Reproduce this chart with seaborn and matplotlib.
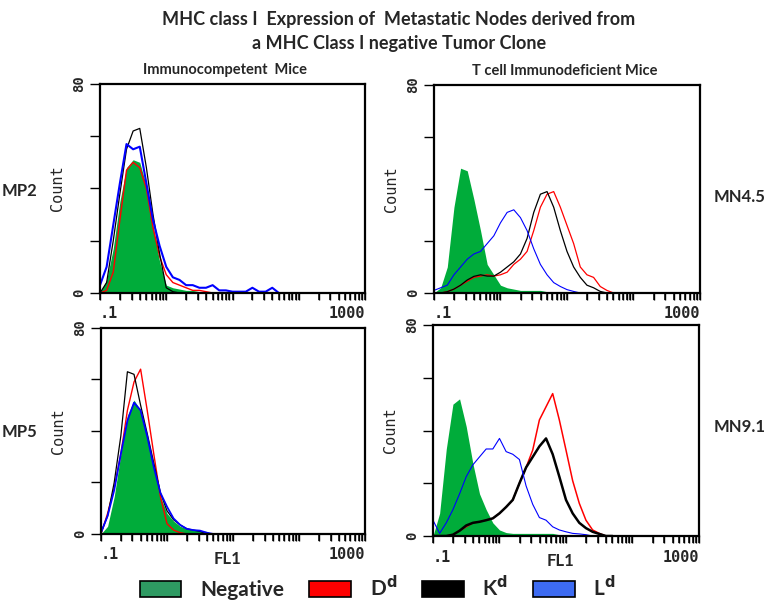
import numpy as np
import pandas as pd
import matplotlib
matplotlib.use("Agg")
import matplotlib.pyplot as plt
from matplotlib.patches import Patch
import seaborn as sns

# Estilo base
sns.set_theme(style="white")
plt.rcParams['font.family'] = ['Lato', 'DejaVu Sans']

# Canal FL1 (log10), bins de 0.1 década
LOG_FL1 = [-1.0, -0.9, -0.8, -0.7, -0.6, -0.5, -0.4, -0.3, -0.2, -0.1,
           0.0, 0.1, 0.2, 0.3, 0.4, 0.5, 0.6, 0.7, 0.8, 0.9,
           1.0, 1.1, 1.2, 1.3, 1.4, 1.5, 1.6, 1.7]

STAINS = ['Negative', 'Dd', 'Kd', 'Ld']
SAMPLES = ['MP2', 'MN4.5', 'MP5', 'MN9.1']

# Conteos (ratón inmunocompetente / inmunodeficiente)
MP2_NEG = [0, 5, 17, 35, 48, 51, 50, 41, 26, 12, 3, 2, 1.5, 1, 1, 0.5, 0.5, 0, 0, 0, 0, 0, 0, 0, 0, 0, 0, 0]
MP2_DD = [0, 1, 8, 28, 47, 50, 48, 40, 25, 14, 7, 4, 3, 2, 1, 1, 0.5, 0, 0, 0, 0, 0, 0, 0, 0, 0, 0, 0]
MP2_KD = [0, 4, 20, 38, 55, 62, 63, 48, 30, 15, 2, 0.5, 0, 0, 0, 0, 0, 0, 0, 0, 0, 0, 0, 0, 0, 0, 0, 0]
MP2_LD = [3, 10, 26, 42, 57, 55, 56, 42, 28, 18, 10, 6, 5, 3, 3, 2, 2, 3, 1, 1, 0.5, 0.5, 0.5, 2, 0.5, 0.5, 2, 0]

MN45_NEG = [0, 2, 10, 33, 48, 47, 36, 24, 11, 7, 3, 2, 1.5, 1, 1, 1, 1, 0.5, 0.5, 0, 0, 0, 0, 0, 0, 0, 0, 0]
MN45_DD = [0, 0, 0.5, 1.5, 3, 4.5, 6, 6.5, 7, 6.5, 7, 8, 11, 13, 16, 24, 33, 38, 39, 33, 26, 19, 10, 7, 6, 2.5, 1, 0]
MN45_KD = [0, 0, 0.5, 1.5, 3, 5, 6.4, 7, 6.5, 6.5, 8, 10, 12, 15, 21, 31, 38, 39, 33, 24, 16, 10, 6, 3, 2, 0.6, 0, 0]
MN45_LD = [1, 2, 3, 7, 10, 13, 15, 16, 19, 22, 27, 31, 32, 29, 24, 17, 11, 7, 4, 2.5, 1.3, 0.6, 0, 0, 0, 0, 0, 0]

MP5_NEG = [0, 3, 14.5, 31, 46, 52, 48, 38, 26, 14.5, 8, 5, 3, 2, 1.5, 1.3, 1, 0, 0, 0, 0, 0, 0, 0, 0, 0, 0, 0]
MP5_DD = [0, 8, 18, 31, 48, 59, 64, 48, 31, 14.5, 4, 1.5, 0.5, 0, 0, 0, 0, 0, 0, 0, 0, 0, 0, 0, 0, 0, 0, 0]
MP5_KD = [0.5, 7, 20, 38, 63, 62, 50, 39, 27.5, 16, 9, 5.5, 3.5, 2, 1.5, 1, 0, 0, 0, 0, 0, 0, 0, 0, 0, 0, 0, 0]
MP5_LD = [0.5, 7, 17, 31, 44, 51, 48, 38, 26, 16, 10.6, 6, 3.5, 2, 1.5, 1.3, 0.5, 0, 0, 0, 0, 0, 0, 0, 0, 0, 0, 0]

MN91_NEG = [0, 8.6, 33, 50, 52, 41.5, 27.5, 16, 10, 5, 2.3, 1.3, 1, 1, 1, 1, 1, 1, 1, 0.5, 0, 0, 0, 0, 0, 0, 0, 0]
MN91_DD = [0, 0, 0, 0.5, 2, 3.5, 5, 5.4, 6, 6.7, 8.6, 11, 13.7, 20, 26, 32.6, 44, 49, 54, 44, 32.6, 21, 12.4, 6, 2.3, 1, 0, 0]
MN91_KD = [0, 0, 0, 0.5, 2, 4, 5, 5.4, 6, 6.7, 8.6, 11, 13.7, 20, 26, 30, 34, 37, 31, 22.5, 13.7, 8.6, 5, 3, 1.6, 0.8, 0, 0]
MN91_LD = [6, 1, 5, 10, 16, 22.5, 27, 30, 33, 33, 37, 32, 31, 29, 19, 12, 7, 6, 3.5, 2.3, 1.6, 1, 0.8, 0.5, 0, 0, 0, 0]

COUNTS = {
    'MP2': [MP2_NEG, MP2_DD, MP2_KD, MP2_LD],
    'MN4.5': [MN45_NEG, MN45_DD, MN45_KD, MN45_LD],
    'MP5': [MP5_NEG, MP5_DD, MP5_KD, MP5_LD],
    'MN9.1': [MN91_NEG, MN91_DD, MN91_KD, MN91_LD],
}

rows = []
for sample in SAMPLES:
    for stain, vals in zip(STAINS, COUNTS[sample]):
        for lx, c in zip(LOG_FL1, vals):
            rows.append({'sample': sample, 'stain': stain, 'fl1': 10 ** lx, 'count': c})
df = pd.DataFrame(rows)

# Colores
NEG_FILL = '#00AC3A'
LINE_COLORS = {'Dd': '#FF0000', 'Kd': '#000000', 'Ld': '#0000FF'}
LEGEND_COLORS = ['#2E9A62', '#FF0000', '#000000', '#3D6BF2']
LEGEND_LABELS = ['Negative', r'D$^{\mathbf{d}}$', r'K$^{\mathbf{d}}$', r'L$^{\mathbf{d}}$']

# Posición de cada panel [izq, abajo, ancho, alto] en fracción de figura
POSITIONS = {
    'MP2': [0.1292, 0.5133, 0.3424, 0.3472],
    'MN4.5': [0.5607, 0.5133, 0.3437, 0.3455],
    'MP5': [0.1305, 0.1130, 0.3411, 0.3422],
    'MN9.1': [0.5594, 0.1096, 0.3437, 0.3505],
}
LINE_WIDTHS = {
    'MP2': {'Dd': 1.0, 'Kd': 0.9, 'Ld': 1.5},
    'MN4.5': {'Dd': 0.9, 'Kd': 0.9, 'Ld': 0.8},
    'MP5': {'Dd': 1.0, 'Kd': 0.9, 'Ld': 1.3},
    'MN9.1': {'Dd': 1.1, 'Kd': 1.8, 'Ld': 0.8},
}

MONO = 'DejaVu Sans Mono'
# Marcas del eje log: todas las subdivisiones; solo los extremos llevan texto
x_ticks = [m * 10.0 ** k for k in range(-1, 3) for m in range(1, 10)] + [1000]

fig = plt.figure(figsize=(7.74, 6.02), dpi=100)

for sample in SAMPLES:
    ax = fig.add_axes(POSITIONS[sample])
    sub = df[df['sample'] == sample]
    neg = sub[sub['stain'] == 'Negative']
    ax.fill_between(neg['fl1'].values, neg['count'].values, color=NEG_FILL, lw=0, zorder=1)
    for stain in ['Dd', 'Kd', 'Ld']:
        s = sub[sub['stain'] == stain]
        sns.lineplot(x=s['fl1'].values, y=s['count'].values, color=LINE_COLORS[stain],
                     lw=LINE_WIDTHS[sample][stain], ax=ax, zorder=2)

    ax.set_xscale('log')
    ax.set_xlim(0.1, 1000)
    ax.set_ylim(0, 80)

    ax.xaxis.set_major_locator(plt.FixedLocator(x_ticks))
    ax.xaxis.set_minor_locator(plt.NullLocator())
    ax.xaxis.set_major_formatter(plt.NullFormatter())
    # Peine de marcas bajo el eje, en coordenadas mixtas (x datos, y ejes)
    ax.vlines(x_ticks, -0.035, 0.0, transform=ax.get_xaxis_transform(),
              colors='black', linewidth=1.1, clip_on=False, zorder=6)
    ax.text(0.0, -0.1, '.1', transform=ax.transAxes, ha='left', va='center',
            fontfamily=MONO, fontweight='bold', fontsize=11)
    ax.text(1.0, -0.1, '1000', transform=ax.transAxes, ha='right', va='center',
            fontfamily=MONO, fontweight='bold', fontsize=11)

    ax.set_yticks([0, 20, 40, 60, 80])
    ax.set_yticklabels(['0', '', '', '', '80'], fontfamily=MONO, fontweight='bold',
                       fontsize=10, rotation=90, va='center')

    for sp in ax.spines.values():
        sp.set_linewidth(1.6)
        sp.set_color('black')

    ax.set_ylabel('Count', fontfamily=MONO, fontsize=11, labelpad=5)
    if sample in ('MP5', 'MN9.1'):
        ax.text(0.48, -0.12, 'FL1', transform=ax.transAxes, ha='center', va='center',
                fontsize=12, fontweight='bold')

# Títulos
fig.text(0.515, 0.968, 'MHC class I  Expression of  Metastatic Nodes derived from',
         ha='center', va='center', fontsize=13, fontweight='bold')
fig.text(0.515, 0.928, 'a MHC Class I negative Tumor Clone',
         ha='center', va='center', fontsize=13, fontweight='bold')
fig.text(0.291, 0.883, 'Immunocompetent  Mice', ha='center', va='center',
         fontsize=10.5, fontweight='bold')
fig.text(0.730, 0.882, 'T cell Immunodeficient Mice', ha='center', va='center',
         fontsize=10.5, fontweight='bold')

# Etiquetas de fila
fig.text(0.025, 0.683, 'MP2', ha='center', va='center', fontsize=12, fontweight='bold')
fig.text(0.025, 0.283, 'MP5', ha='center', va='center', fontsize=12, fontweight='bold')
fig.text(0.955, 0.673, 'MN4.5', ha='center', va='center', fontsize=12, fontweight='bold')
fig.text(0.955, 0.29, 'MN9.1', ha='center', va='center', fontsize=12, fontweight='bold')

# Leyenda
handles = [Patch(facecolor=c, edgecolor='black', linewidth=1.2) for c in LEGEND_COLORS]
fig.legend(handles, LEGEND_LABELS, loc='center', bbox_to_anchor=(0.488, 0.024), ncol=4,
           frameon=False, handlelength=2.0, handleheight=0.75, handletextpad=0.9,
           columnspacing=1.2, prop={'weight': 'bold', 'size': 15})

# Marcas de los ejes
for ax in fig.axes:
    ax.tick_params(axis='x', which='major', bottom=True, direction='out', length=5,
                   width=1, color='black')
    ax.tick_params(axis='y', which='major', left=True, direction='out', length=7,
                   width=1, color='black', pad=3)

fig.savefig('out.png', dpi=100)
